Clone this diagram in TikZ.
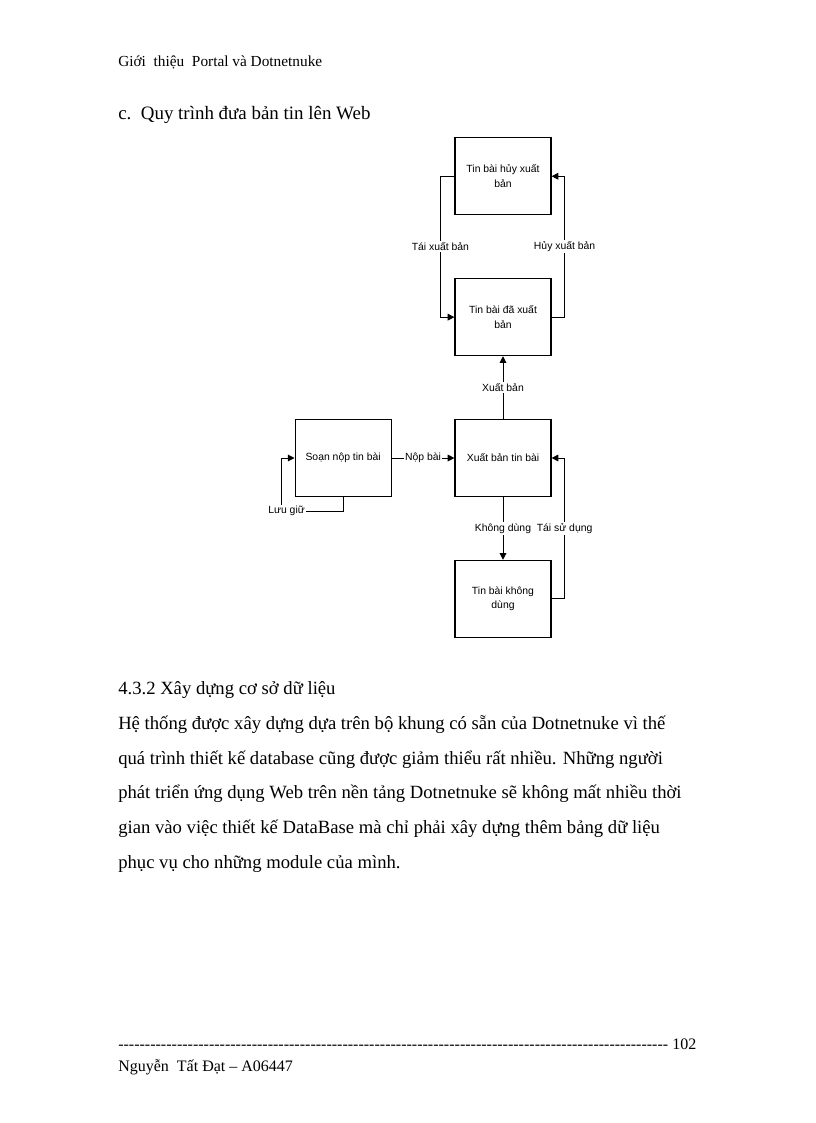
\documentclass[tikz,border=0pt]{standalone}
\usepackage{fontspec}
\setmainfont{Liberation Serif}
\setsansfont{Liberation Sans}
\usetikzlibrary{arrows.meta, positioning}

\begin{document}
\begin{tikzpicture}[
        x=0.75pt, y=-0.75pt,
        node distance=47pt and 47pt,
        box/.style={
            rectangle,
            draw=black,
            line width=0.9pt,
            minimum width=72pt,
            minimum height=57.75pt,
            inner sep=2pt,
            align=center,
            font=\sffamily\fontsize{7.8}{11}\selectfont
        },
        arrow/.style={
            -{Triangle[length=5pt, width=5pt]},
            line width=0.75pt
        },
        linetxt/.style={
            fill=white,
            inner sep=1pt,
            font=\sffamily\fontsize{7.8}{9}\selectfont
        },
        pagetxt/.style={
            anchor=base west,
            inner sep=0pt,
            font=\fontsize{14}{17}\selectfont
        }
    ]

    \fill[white] (0,0) rectangle (816,1123);
    \useasboundingbox (0,0) rectangle (816,1123);

    % Page text
    \node[pagetxt, font=\fontsize{11.5}{14}\selectfont] (header) at (118,67) {Giới\ \ thiệu\ \ Portal và Dotnetnuke};
    \node[pagetxt, font=\fontsize{14.2}{17}\selectfont] (title) at (118,120) {c.\ \ Quy trình đưa bản tin lên Web};

    % Nodes
    \node[box] (publish) at (503,458) {Xuất bản tin bài};
    \node[box, above=of publish] (published) {Tin bài đã xuất\\ bản};
    \node[box, above=of published] (cancelled) {Tin bài hủy xuất\\ bản};
    \node[box, left=of publish] (draft) {Soạn nộp tin bài};
    \node[box, below=of publish] (unused) {Tin bài không\\ dùng};

    % Arrows
    \draw[arrow] (draft) -- node[linetxt] {Nộp bài} (publish);
    \draw[arrow] (publish) -- node[linetxt] {Xuất bản} (published);
    \draw[arrow] (publish) -- node[linetxt] {Không dùng} (unused);
    \draw[arrow] (published.east) -- ++(13,0) |- node[linetxt, pos=0.25] {Hủy xuất bản} (cancelled.east);
    \draw[arrow] (cancelled.west) -- ++(-14,0) |- node[linetxt, pos=0.25] {Tái xuất bản} (published.west);
    \draw[arrow] (unused.east) -- ++(13,0) |- node[linetxt, pos=0.25] {Tái sử dụng} (publish.east);
    \draw[arrow] (draft.south) -- ++(0,14) -- ++(-61.5,0) node[linetxt, pos=0.92] {Lưu giữ} |- (draft.west);

    % Section text
    \node[pagetxt] (sechead) at (118,694) {4.3.2 Xây dựng cơ sở dữ liệu};
    \node[pagetxt, align=left, font=\fontsize{14}{26}\selectfont] (para) at (118,868) {Hệ thống được xây dựng dựa trên bộ khung có sẵn của Dotnetnuke vì thế\\
        quá trình thiết kế database cũng được giảm thiểu rất nhiều. Những người\\
        phát triển ứng dụng Web trên nền tảng Dotnetnuke sẽ không mất nhiều thời\\
        gian vào việc thiết kế DataBase mà chỉ phải xây dựng thêm bảng dữ liệu\\
        phục vụ cho những module của mình.};

    % Footer
    \node[pagetxt, font=\fontsize{12}{14}\selectfont] (pageno) at (118,1049) {\hbox to 433.5pt{\xleaders\hbox{-}\hfill\ 102}};
    \node[pagetxt, font=\fontsize{12}{14}\selectfont] (author) at (118,1071) {Nguyễn\ \ Tất Đạt – A06447};

\end{tikzpicture}
\end{document}
